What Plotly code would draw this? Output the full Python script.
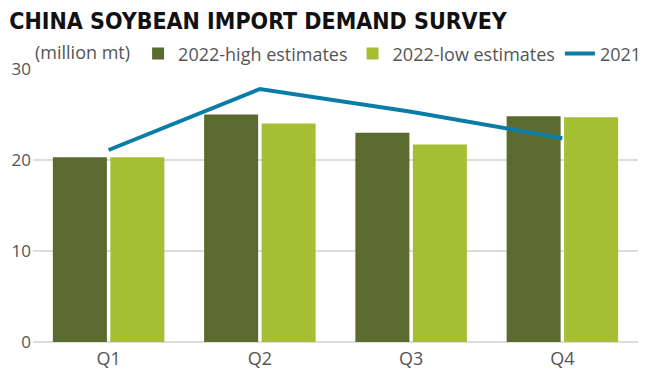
import plotly.graph_objects as go

quarters = ["Q1", "Q2", "Q3", "Q4"]
high_2022 = [20.3, 25.0, 23.0, 24.8]
low_2022 = [20.3, 24.0, 21.7, 24.7]
line_2021 = [21.1, 27.8, 25.3, 22.4]
y_ticks = [0, 10, 20, 30]

TXT = "#555555"
FONT = "Open Sans"

fig = go.Figure()
fig.add_trace(go.Bar(x=quarters, y=high_2022, name="2022-high estimates",
                     marker=dict(color="#5B6B30", line=dict(width=0))))
fig.add_trace(go.Bar(x=quarters, y=low_2022, name="2022-low estimates",
                     marker=dict(color="#A5BE34", line=dict(width=0))))
fig.add_trace(go.Scatter(x=quarters, y=line_2021, name="2021", mode="lines",
                         line=dict(color="#0A7DA6", width=4)))

fig.update_layout(
    width=648, height=376,
    margin=dict(l=25, r=18, t=61, b=42, autoexpand=False),
    paper_bgcolor="white", plot_bgcolor="white",
    barmode="group", bargap=0.24, bargroupgap=0.06,
    font=dict(family=FONT, size=18, color=TXT),
    title=dict(text="<b>CHINA SOYBEAN IMPORT DEMAND SURVEY</b>",
               font=dict(family="DejaVu Sans Condensed, Roboto", size=23, color="#111111"),
               x=0.002, xanchor="left", xref="container",
               y=0.986, yanchor="top", yref="container"),
    legend=dict(orientation="h", x=0.0, xanchor="left", xref="paper",
                y=0.878, yanchor="middle", yref="container",
                title=dict(text="(million mt)", font=dict(family=FONT, size=18, color=TXT)),
                font=dict(family=FONT, size=18, color=TXT), bgcolor="rgba(0,0,0,0)",
                itemwidth=30, tracegroupgap=0),
    showlegend=True,
)
fig.update_xaxes(showgrid=False, ticks="", showline=False, ticklabelstandoff=4,
                 tickfont=dict(family=FONT, size=18, color=TXT))
fig.update_yaxes(range=[0, 30], tickvals=y_ticks, showgrid=True, gridcolor="#DDDDDD",
                 gridwidth=2, zeroline=True, zerolinecolor="#DDDDDD", zerolinewidth=2,
                 ticks="", showline=False, ticklabelstandoff=1,
                 tickfont=dict(family=FONT, size=17, color=TXT))

fig.write_html("out.html")
